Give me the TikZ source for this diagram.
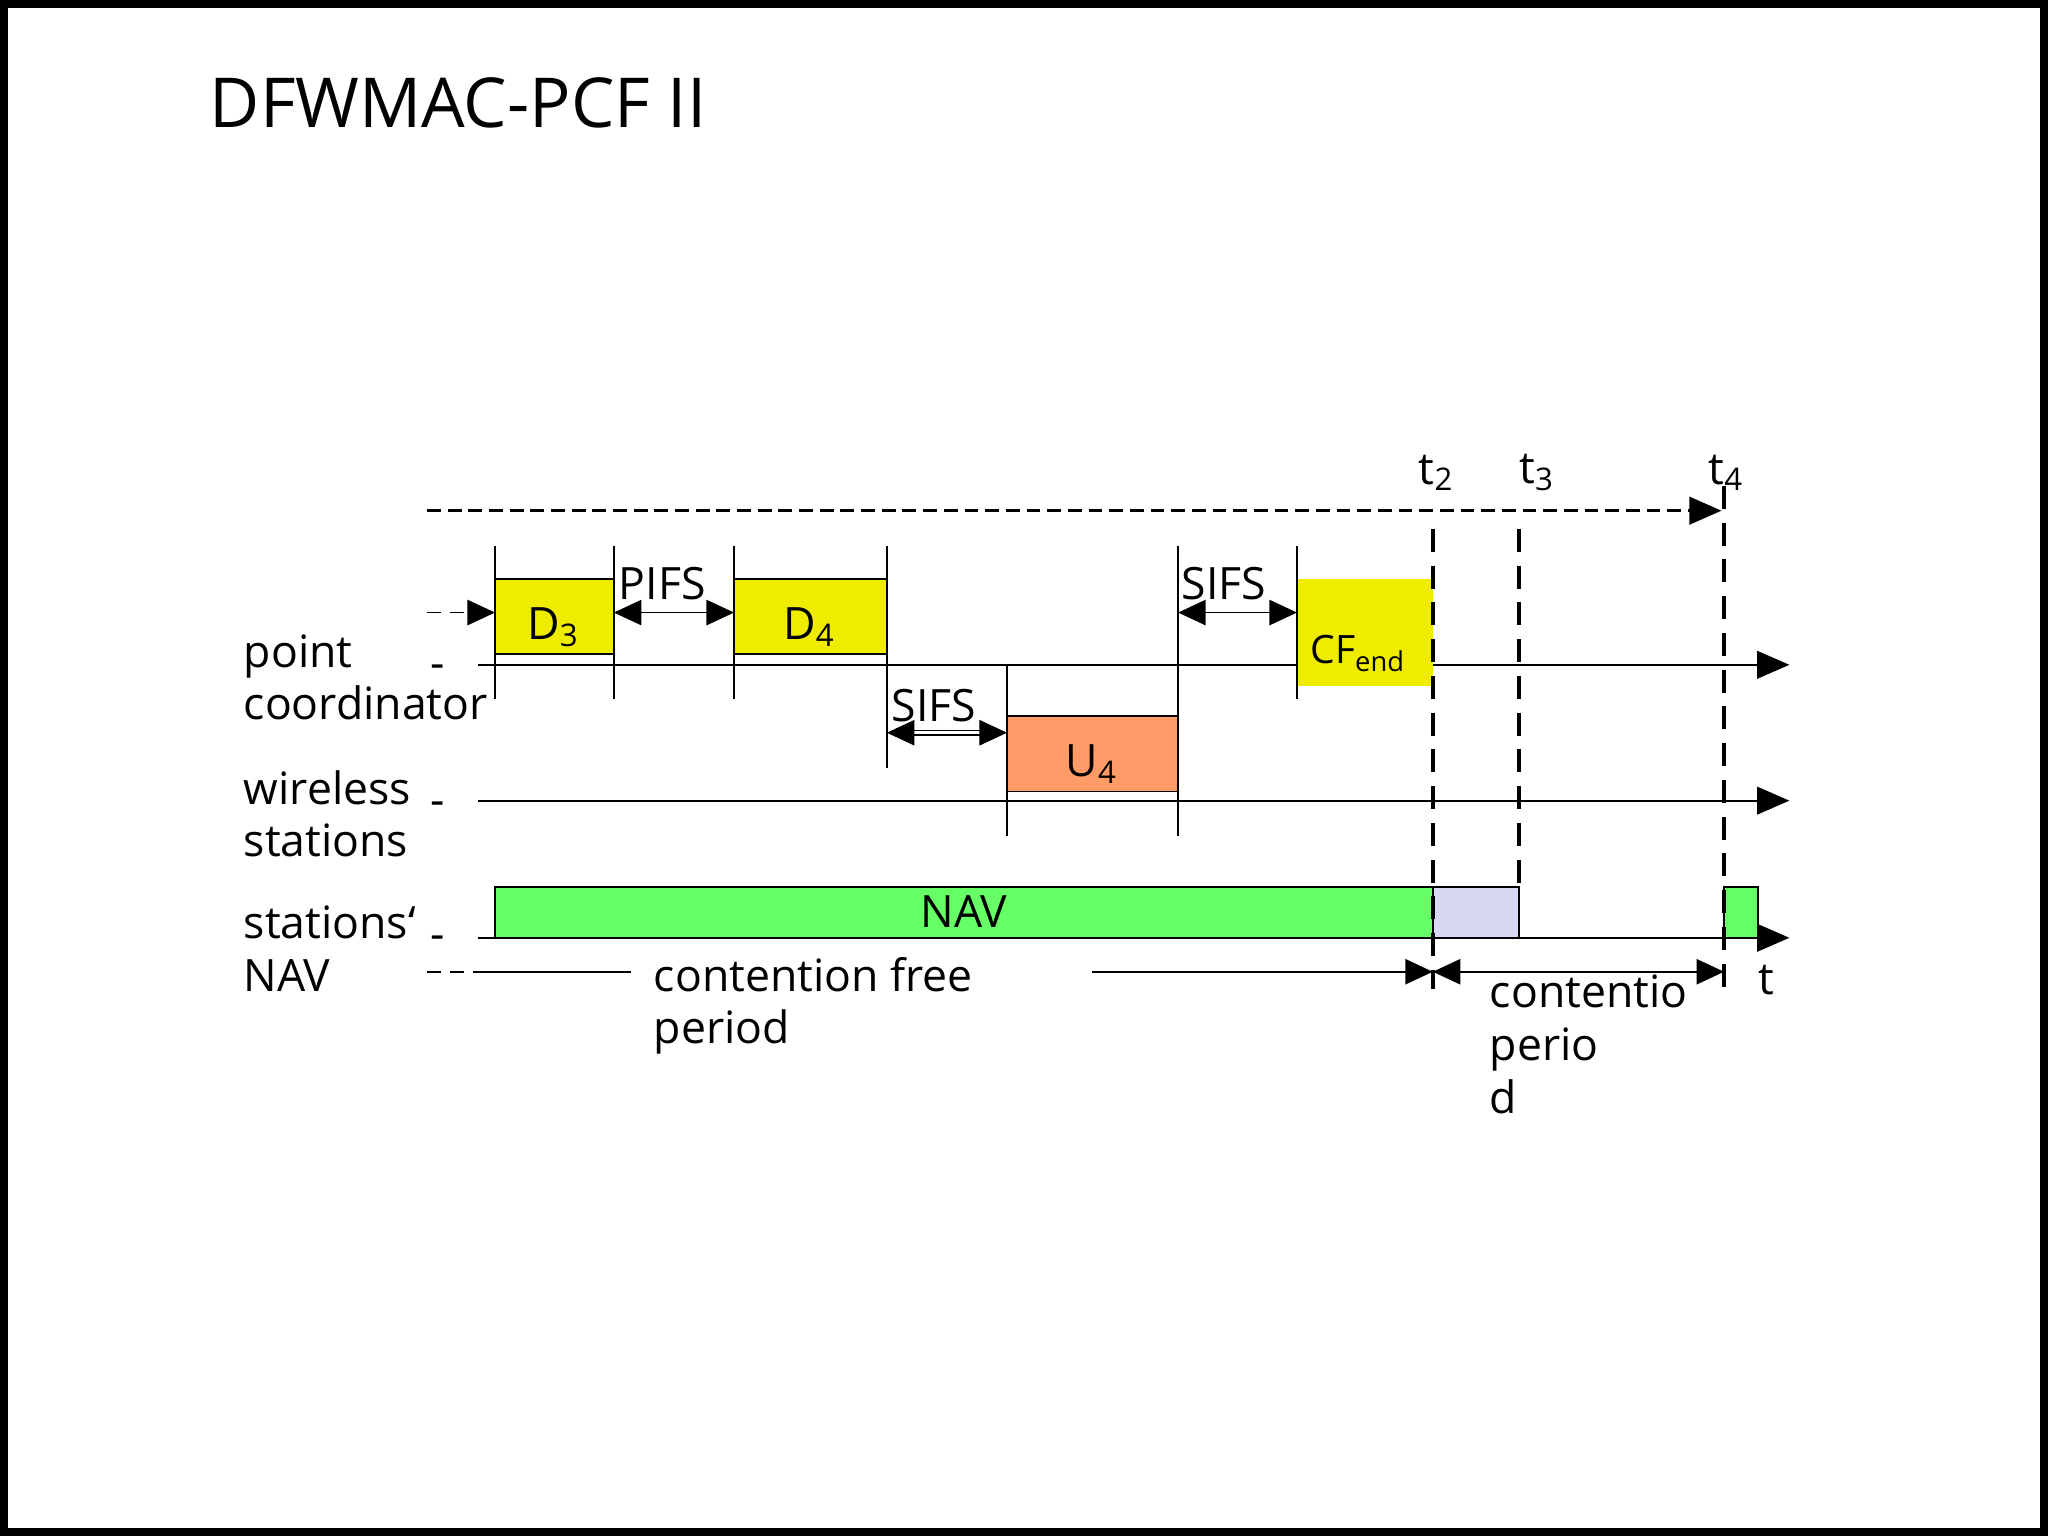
\documentclass[tikz,border=0pt]{standalone}
\usepackage{fontspec}
\setmainfont{Open Sans}
\usetikzlibrary{arrows.meta}
\definecolor{frameyel}{RGB}{240,236,0}
\definecolor{upsalmon}{RGB}{255,155,102}
\definecolor{navgreen}{RGB}{102,255,102}
\definecolor{cplav}{RGB}{216,216,242}
\tikzset{
  lbl/.style={font=\fontsize{9.7}{11.5}\selectfont,inner sep=0pt},
  axis/.style={-{Triangle[length=7pt,width=6pt]}},
  tick/.style={thin},
  dd/.style={{Triangle[length=6pt,width=5.5pt]}-{Triangle[length=6pt,width=5.5pt]}},
  tdash/.style={thick,dash pattern=on 5pt off 3pt},
  frame/.style={draw=black,thin},
}
\begin{document}
\begin{tikzpicture}[x=0.01cm,y=-0.01cm]
      \useasboundingbox (0,0) rectangle (1568,1176);
      \draw[line width=2.5pt] (2,2) rectangle (1566,1174);
      \node[anchor=base west,font=\fontsize{15}{18}\selectfont,inner sep=0pt] (title) at (160,98) {DFWMAC-PCF II};

      % axes
      \coordinate (pc0) at (366,509); \coordinate (pc1) at (1370,509);
      \coordinate (ws0) at (366,613); \coordinate (ws1) at (1370,613);
      \coordinate (nv0) at (366,718); \coordinate (nv1) at (1370,718);
      \draw[axis] (pc0) -- (pc1);
      \draw[axis] (ws0) -- (ws1);
      \draw[axis] (nv0) -- (nv1);

      % frames
      \draw[frame,fill=frameyel] (379,443) rectangle (470,501);
      \node[lbl] (d3) at (424,480) {D\textsubscript{3}};
      \draw[frame,fill=frameyel] (562,443) rectangle (679,501);
      \node[lbl] (d4) at (620,480) {D\textsubscript{4}};
      \fill[frameyel] (993,443) rectangle (1097,525);
      \node[lbl,font=\fontsize{8.5}{10}\selectfont] (cf) at (1040,500) {CF\textsubscript{end}};
      \draw[frame,fill=upsalmon] (771,548) rectangle (902,606);
      \node[lbl] (u4) at (836,585) {U\textsubscript{4}};
      \draw[frame,fill=navgreen] (379,679) rectangle (1097,718);
      \node[lbl] (nav) at (738,698) {NAV};
      \draw[frame,fill=cplav] (1097,679) rectangle (1163,718);
      \draw[frame,fill=navgreen] (1320,679) rectangle (1346,718);

      % ticks
      \foreach \x in {379,470,562,993} \draw[tick] (\x,418) -- (\x,535);
      \draw[tick] (679,418) -- (679,588);
      \draw[tick] (902,418) -- (902,640);
      \draw[tick] (771,509) -- (771,640);

      % gaps
      \draw[dd] (470,469) -- (562,469);
      \node[lbl] (pifs) at (507,447) {PIFS};
      \draw[dd] (902,469) -- (993,469);
      \node[lbl] (sifs1) at (937,447) {SIFS};
      \draw[dd,double] (679,561) -- (771,561);
      \node[lbl] (sifs2) at (715,540) {SIFS};
      \draw[densely dashed,-{Triangle[length=6pt,width=5.5pt]}] (327,469) -- (379,469);

      % time marks
      \draw[semithick,dash pattern=on 3pt off 1.5pt,-{Triangle[length=7pt,width=6pt]}] (327,391) -- (1318,391);
      \draw[tdash] (1097,405) -- (1097,757);
      \draw[tdash] (1163,405) -- (1163,679);
      \draw[tdash] (1320,372) -- (1320,757);
      \node[lbl] (t2) at (1100,362) {t\textsubscript{2}};
      \node[lbl] (t3) at (1177,362) {t\textsubscript{3}};
      \node[lbl] (t4) at (1322,362) {t\textsubscript{4}};
      \node[lbl] (t) at (1352,750) {t};

      % rows
      \node[lbl,align=left,anchor=north west] (pc) at (186,485) {point\\coordinator};
      \node[lbl,align=left,anchor=north west] (ws) at (186,589) {wireless\\stations};
      \node[lbl,align=left,anchor=north west] (sn) at (186,693) {stations‘\\NAV};
      \foreach \y in {514,619,722} \node[lbl] at (335,\y) {-};

      % periods
      \draw[densely dashed] (327,744) -- (366,744);
      \draw (366,744) -- (483,744);
      \node[lbl,align=left,anchor=north west] (cfp) at (500,732) {contention free\\period};
      \draw[-{Triangle[length=6pt,width=5.5pt]}] (836,744) -- (1097,744);
      \draw[dd] (1097,744) -- (1320,744);
      \node[lbl,align=left,anchor=north west] (cp) at (1140,746) {contentio\\perio\\d};
\end{tikzpicture}
\end{document}
